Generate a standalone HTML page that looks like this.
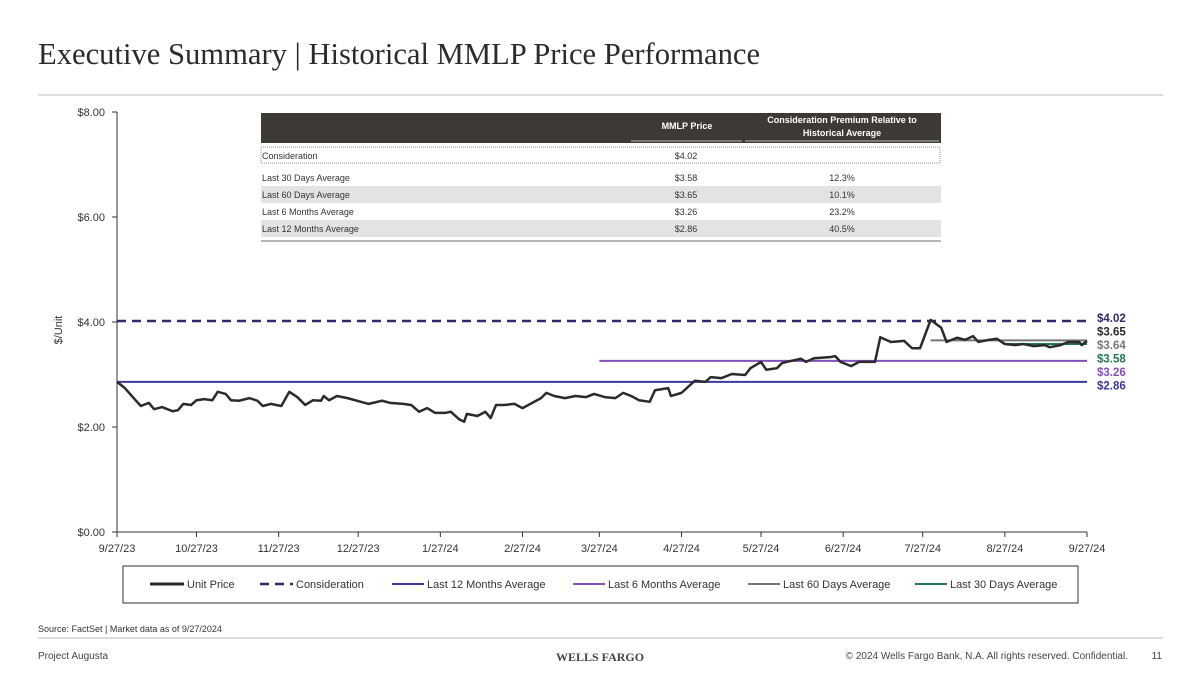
<!DOCTYPE html>
<html><head><meta charset="utf-8"><style>
body{margin:0;width:1200px;height:675px;background:#fff;overflow:hidden;font-family:"Liberation Sans",sans-serif}
</style></head><body>
<svg id="s" width="1200" height="675" viewBox="0 0 1200 675" xmlns="http://www.w3.org/2000/svg">
<text x="38" y="64" font-family="Liberation Serif,serif" font-size="30.6" fill="#2b2b2b">Executive Summary | Historical MMLP Price Performance</text>
<line x1="38" y1="95" x2="1163" y2="95" stroke="#bbb" stroke-width="1"/>
<g id="chart"></g>
<g>
<rect x="261" y="113" width="680" height="30" fill="#3d3935"/>
<line x1="631" y1="141" x2="742" y2="141" stroke="#bbb" stroke-width="1"/>
<line x1="745" y1="141" x2="939" y2="141" stroke="#bbb" stroke-width="1"/>
<text x="687" y="129" font-size="9" font-weight="bold" fill="#fff" text-anchor="middle">MMLP Price</text>
<text x="842" y="123" font-size="9" font-weight="bold" fill="#fff" text-anchor="middle">Consideration Premium Relative to</text>
<text x="842" y="136" font-size="9" font-weight="bold" fill="#fff" text-anchor="middle">Historical Average</text>
<rect x="261" y="147" width="679" height="16" fill="#fff" stroke="#999" stroke-dasharray="1,1"/>
<text x="262" y="159" font-size="9" fill="#333">Consideration</text><text x="686" y="159" font-size="9" fill="#333" text-anchor="middle">$4.02</text>
<rect x="261" y="186" width="680" height="17" fill="#e3e3e3"/>
<rect x="261" y="220" width="680" height="17" fill="#e3e3e3"/>
<text x="262" y="181" font-size="9" fill="#333">Last 30 Days Average</text><text x="686" y="181" font-size="9" fill="#333" text-anchor="middle">$3.58</text><text x="842" y="181" font-size="9" fill="#333" text-anchor="middle">12.3%</text>
<text x="262" y="198" font-size="9" fill="#333">Last 60 Days Average</text><text x="686" y="198" font-size="9" fill="#333" text-anchor="middle">$3.65</text><text x="842" y="198" font-size="9" fill="#333" text-anchor="middle">10.1%</text>
<text x="262" y="215" font-size="9" fill="#333">Last 6 Months Average</text><text x="686" y="215" font-size="9" fill="#333" text-anchor="middle">$3.26</text><text x="842" y="215" font-size="9" fill="#333" text-anchor="middle">23.2%</text>
<text x="262" y="232" font-size="9" fill="#333">Last 12 Months Average</text><text x="686" y="232" font-size="9" fill="#333" text-anchor="middle">$2.86</text><text x="842" y="232" font-size="9" fill="#333" text-anchor="middle">40.5%</text>
<line x1="261" y1="241" x2="941" y2="241" stroke="#888" stroke-width="1.2"/>
</g>
<g>
<rect x="123" y="566" width="955" height="37" fill="#fff" stroke="#333" stroke-width="1"/>
<line x1="150" y1="584" x2="184" y2="584" stroke="#2b2b2b" stroke-width="3"/><text x="187" y="588" font-size="11" fill="#333">Unit Price</text>
<line x1="260" y1="584" x2="293" y2="584" stroke="#2e2a6e" stroke-width="2.5" stroke-dasharray="9,6"/><text x="296" y="588" font-size="11" fill="#333">Consideration</text>
<line x1="392" y1="584" x2="424" y2="584" stroke="#3b3a9c" stroke-width="2"/><text x="427" y="588" font-size="11" fill="#333">Last 12 Months Average</text>
<line x1="573" y1="584" x2="605" y2="584" stroke="#8150bd" stroke-width="2"/><text x="608" y="588" font-size="11" fill="#333">Last 6 Months Average</text>
<line x1="748" y1="584" x2="780" y2="584" stroke="#777" stroke-width="2"/><text x="783" y="588" font-size="11" fill="#333">Last 60 Days Average</text>
<line x1="915" y1="584" x2="947" y2="584" stroke="#1f7a50" stroke-width="2"/><text x="950" y="588" font-size="11" fill="#333">Last 30 Days Average</text>
</g>
<text x="38" y="632" font-size="9" fill="#333">Source: FactSet | Market data as of 9/27/2024</text>
<line x1="38" y1="638" x2="1163" y2="638" stroke="#bbb"/>
<text x="38" y="659" font-size="10" fill="#444">Project Augusta</text>
<text x="600" y="661" font-family="Liberation Serif,serif" font-weight="bold" font-size="12" fill="#444" text-anchor="middle">WELLS FARGO</text>
<text x="1128" y="659" font-size="10" fill="#444" text-anchor="end">© 2024 Wells Fargo Bank, N.A. All rights reserved. Confidential.</text>
<text x="1162" y="659" font-size="10" fill="#444" text-anchor="end">11</text>
</svg>
<script>
const days=[0,3,7,9,12,14,17,21,23,25,28,30,33,36,38,41,43,46,50,53,55,58,62,65,68,71,74,77,78,80,83,87,92,95,100,103,108,111,114,117,120,124,126,129,131,132,136,139,141,143,146,150,153,156,160,162,165,169,173,177,180,184,188,191,194,197,201,203,208,209,213,218,222,224,228,232,237,239,243,245,249,251,258,260,263,269,271,273,277,280,286,288,292,297,300,303,307,311,313,317,320,323,325,329,332,335,339,342,346,350,352,356,359,363,364,366];
const prices=[2.86,2.74,2.51,2.40,2.46,2.34,2.38,2.30,2.32,2.44,2.42,2.51,2.53,2.51,2.67,2.63,2.51,2.50,2.55,2.50,2.40,2.44,2.40,2.67,2.57,2.42,2.51,2.50,2.59,2.51,2.59,2.55,2.48,2.44,2.50,2.46,2.44,2.42,2.29,2.36,2.27,2.27,2.29,2.15,2.10,2.25,2.21,2.29,2.17,2.42,2.42,2.44,2.36,2.44,2.55,2.65,2.59,2.55,2.59,2.57,2.63,2.57,2.55,2.65,2.59,2.51,2.48,2.70,2.74,2.59,2.65,2.88,2.86,2.95,2.93,3.01,2.99,3.12,3.24,3.09,3.12,3.22,3.30,3.24,3.31,3.33,3.35,3.24,3.16,3.24,3.24,3.71,3.62,3.64,3.50,3.50,4.04,3.89,3.62,3.70,3.66,3.73,3.62,3.66,3.68,3.58,3.56,3.58,3.54,3.56,3.52,3.56,3.62,3.62,3.56,3.64];
const yTicks=[0,2,4,6,8];
const yTickLabels=["$0.00","$2.00","$4.00","$6.00","$8.00"];
const xTickLabels=["9/27/23","10/27/23","11/27/23","12/27/23","1/27/24","2/27/24","3/27/24","4/27/24","5/27/24","6/27/24","7/27/24","8/27/24","9/27/24"];
const xTickDays=[0,30,61,91,122,153,182,213,243,274,304,335,366];
const consideration=4.02;
const avgNames=["Last 12 Months Average","Last 6 Months Average","Last 60 Days Average","Last 30 Days Average"];
const avgValues=[2.86,3.26,3.65,3.58];
const avgStartDays=[0,182,307,335];
const avgColors=["#3b3a9c","#8150bd","#777","#1f7a50"];
const endLabels=["$4.02","$3.65","$3.64","$3.58","$3.26","$2.86"];
const endColors=["#2e2a6e","#2b2b2b","#777","#1f7a50","#8150bd","#3b3a9c"];

const NS="http://www.w3.org/2000/svg";
const X0=117,X1=1087,Y0=532,YT=112;
const x=d=>X0+d/366*(X1-X0);
const y=v=>Y0-v/8*(Y0-YT);
const g=document.getElementById('chart');
function mk(t,a){const e=document.createElementNS(NS,t);for(const k in a)e.setAttribute(k,a[k]);g.appendChild(e);return e;}
let e=mk('line',{x1:X0,y1:YT,x2:X0,y2:Y0,stroke:'#333','stroke-width':1});


e=mk('line',{x1:X0,y1:Y0,x2:X1,y2:Y0,stroke:'#333','stroke-width':1});


yTicks.forEach((v,i)=>{
 mk('line',{x1:X0-5,y1:y(v),x2:X0,y2:y(v),stroke:'#333'});
 const t=mk('text',{x:X0-12,y:y(v)+4,'font-size':11,fill:'#333','text-anchor':'end'});
 t.textContent=yTickLabels[i];
 
 
});
xTickDays.forEach((d,i)=>{
 mk('line',{x1:x(d),y1:Y0,x2:x(d),y2:Y0+5,stroke:'#333'});
 const t=mk('text',{x:x(d),y:Y0+20,'font-size':11,fill:'#333','text-anchor':'middle'});
 t.textContent=xTickLabels[i];
 
 
});
const yt=mk('text',{x:62,y:330,'font-size':11,fill:'#333','text-anchor':'middle',transform:'rotate(-90 62 330)'});
yt.textContent='$/Unit';


e=mk('line',{x1:X0,y1:y(consideration),x2:X1,y2:y(consideration),stroke:'#2e2a6e','stroke-width':2.5,'stroke-dasharray':'9,6'});


avgValues.forEach((v,i)=>{
 const l=mk('line',{x1:x(avgStartDays[i]),y1:y(v),x2:X1,y2:y(v),stroke:avgColors[i],'stroke-width':2});
 
 
});
const p=mk('polyline',{points:days.map((d,i)=>x(d)+','+y(prices[i])).join(' '),fill:'none',stroke:'#2b2b2b','stroke-width':2.5,'stroke-linejoin':'round'});


endLabels.forEach((s,i)=>{
 const t=mk('text',{x:1097,y:322+i*13.5,'font-size':11.5,'font-weight':'bold',fill:endColors[i]});
 t.textContent=s;
 
 
});
</script>
</body></html>
